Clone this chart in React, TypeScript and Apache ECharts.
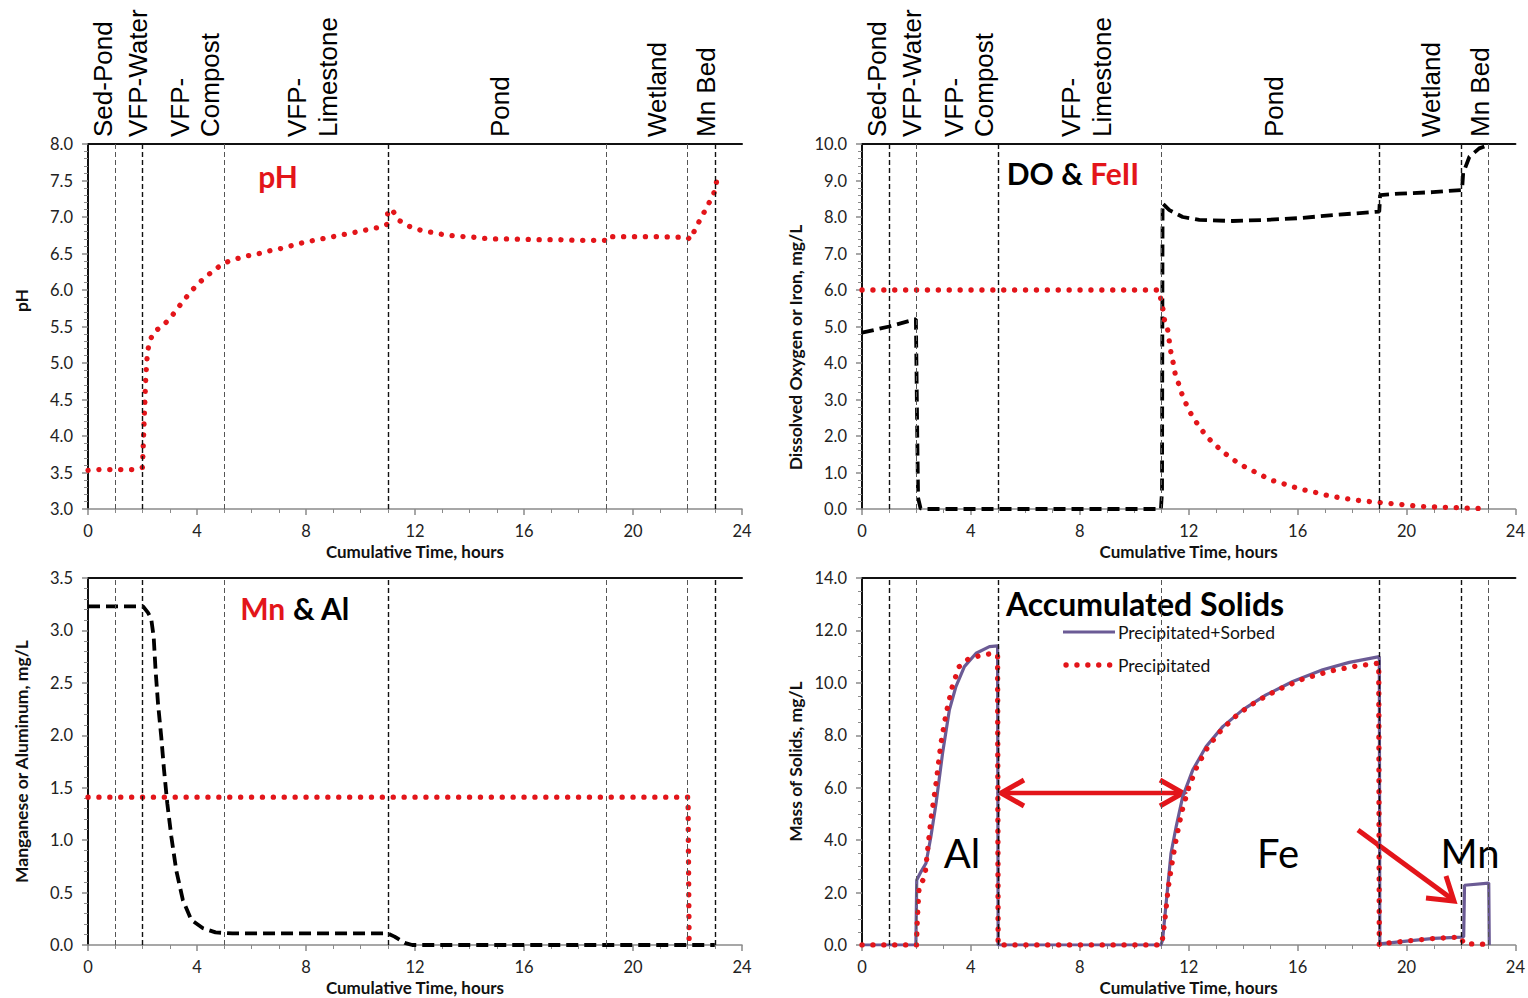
import React, { useEffect, useRef } from "react";
import * as echarts from "echarts";

// ---------- DATA ----------
// Stage boundaries (hours)
const boundaries = [1, 2, 5, 11, 19, 22, 23];
const stageLabels = ["Sed-Pond", "VFP-Water", "VFP-", "Compost", "VFP-", "Limestone", "Pond", "Wetland", "Mn Bed"];
const stageLabelHours = [0.55, 1.83, 3.38, 4.48, 7.67, 8.81, 15.12, 20.88, 22.68];
const xTicks = [0, 4, 8, 12, 16, 20, 24];

// pH (red dotted)
const phTime = [0, 0.43, 0.85, 1.26, 1.66, 2.0, 2.06, 2.12, 2.18, 2.25, 2.4, 2.74, 3.03, 3.27, 3.52, 3.8, 4.08, 4.39, 4.72, 5.08, 5.47, 5.88, 6.28, 6.7, 7.1, 7.5, 7.9, 8.3, 8.71, 9.12, 9.52, 9.93, 10.3, 10.7, 10.98, 11.0, 11.21, 11.43, 11.8, 12.2, 12.61, 13.02, 13.45, 13.85, 14.27, 14.7, 15.5, 16.4, 17.2, 18.0, 18.98, 19.02, 20.0, 21.0, 22.0, 22.1, 22.29, 22.47, 22.66, 22.84, 23.02, 23.08];
const phValue = [3.53, 3.54, 3.54, 3.54, 3.54, 3.57, 4.2, 4.8, 5.14, 5.28, 5.42, 5.51, 5.62, 5.74, 5.86, 5.99, 6.1, 6.2, 6.3, 6.38, 6.43, 6.47, 6.5, 6.54, 6.57, 6.61, 6.65, 6.68, 6.71, 6.74, 6.77, 6.8, 6.83, 6.86, 6.9, 7.1, 7.07, 6.95, 6.87, 6.82, 6.79, 6.76, 6.74, 6.73, 6.72, 6.7, 6.7, 6.69, 6.69, 6.68, 6.68, 6.73, 6.73, 6.73, 6.72, 6.69, 6.84, 6.97, 7.1, 7.23, 7.37, 7.52];

// Dissolved oxygen (black dashed)
const doTime = [0, 1, 1.98, 2.03, 2.06, 2.15, 2.3, 10.98, 11.02, 11.04, 11.29, 11.78, 12.39, 13.6, 14.84, 16.07, 17.29, 19.0, 19.03, 19.74, 20.96, 22.04, 22.08, 22.31, 22.67, 23.0];
const doValue = [4.83, 5.0, 5.2, 2.0, 0.3, 0.02, 0, 0, 0.5, 8.37, 8.19, 8.0, 7.92, 7.89, 7.92, 7.97, 8.05, 8.15, 8.6, 8.64, 8.68, 8.74, 9.2, 9.65, 9.88, 9.97];

// Ferrous iron (red dotted)
const feTime = [0, 10.9, 11.04, 11.11, 11.23, 11.29, 11.35, 11.44, 11.51, 11.66, 11.78, 11.96, 12.15, 12.39, 12.64, 12.94, 13.25, 13.56, 13.92, 14.29, 14.66, 15.03, 15.45, 15.82, 16.25, 16.68, 17.05, 17.47, 17.9, 18.27, 18.7, 19.13, 19.56, 19.98, 20.35, 20.78, 21.21, 21.64, 22.06, 22.5, 22.92];
const feValue = [6.0, 6.0, 5.54, 5.18, 4.9, 4.58, 4.27, 3.97, 3.67, 3.37, 3.08, 2.79, 2.51, 2.26, 2.0, 1.78, 1.57, 1.39, 1.21, 1.07, 0.93, 0.79, 0.7, 0.61, 0.52, 0.45, 0.38, 0.32, 0.27, 0.23, 0.2, 0.17, 0.14, 0.11, 0.08, 0.06, 0.05, 0.04, 0.03, 0.02, 0.01];

// Aluminum (black dashed)
const alTime = [0, 2.02, 2.2, 2.32, 2.41, 2.48, 2.57, 2.69, 2.79, 2.91, 3.06, 3.24, 3.48, 3.79, 4.22, 4.68, 5.3, 11.0, 11.25, 11.62, 11.9, 23.0];
const alValue = [3.23, 3.23, 3.17, 3.11, 2.94, 2.62, 2.3, 1.98, 1.67, 1.35, 1.03, 0.71, 0.43, 0.24, 0.16, 0.12, 0.11, 0.11, 0.08, 0.02, 0, 0];

// Manganese (red dotted)
const mnTime = [0, 22.02, 22.06, 22.12];
const mnValue = [1.41, 1.41, 0, 0];

// Accumulated solids: precipitated + sorbed (purple solid)
const sorbTime = [0, 1.98, 2.01, 2.17, 2.35, 2.53, 2.72, 2.96, 3.21, 3.45, 3.76, 4.19, 4.68, 4.98, 5.0, 10.98, 11.04, 11.17, 11.35, 11.54, 11.78, 12.15, 12.64, 13.25, 13.98, 14.84, 15.82, 16.92, 17.9, 19.0, 19.02, 19.1, 20.0, 21.0, 22.0, 22.1, 22.13, 23.02, 23.04];
const sorbValue = [0, 0, 2.48, 2.8, 3.12, 4.13, 5.41, 7.32, 8.97, 9.86, 10.62, 11.13, 11.38, 11.41, 0, 0, 0.19, 1.59, 3.5, 4.52, 5.66, 6.68, 7.57, 8.33, 8.97, 9.54, 10.05, 10.5, 10.78, 11.0, 0, 0.05, 0.15, 0.25, 0.3, 0.32, 2.28, 2.36, 0];

// Accumulated solids: precipitated only (red dotted)
const precTime = [0, 2.0, 2.03, 2.1, 2.31, 2.41, 2.53, 2.72, 2.9, 3.09, 3.33, 3.57, 3.94, 4.31, 4.8, 4.98, 5.0, 10.98, 11.05, 11.15, 11.25, 11.4, 11.55, 11.75, 12.0, 12.3, 12.7, 13.2, 13.8, 14.5, 15.3, 16.2, 17.2, 18.2, 18.98, 19.0, 19.1, 20.0, 21.0, 22.0, 22.1, 23.0];
const precValue = [0, 0, 0.95, 2.23, 2.6, 3.63, 4.77, 6.17, 7.7, 8.84, 9.92, 10.62, 10.94, 11.03, 11.13, 11.05, 0, 0, 0.3, 1.2, 2.2, 3.2, 4.1, 5.1, 6.0, 6.8, 7.55, 8.2, 8.8, 9.3, 9.75, 10.15, 10.45, 10.65, 10.75, 0, 0.05, 0.15, 0.25, 0.3, 0.05, 0.03];

// ---------- STYLE / LAYOUT ----------
const RED = "#e3151a";
const PURPLE = "#6b5b95";
const GRAY = "#8a8a8a";
const LATO = "Lato, 'Open Sans', sans-serif";
const grids = [
  { left: 88, top: 144, width: 654, height: 365 },
  { left: 862, top: 144, width: 654, height: 365 },
  { left: 88, top: 578, width: 654, height: 367 },
  { left: 862, top: 578, width: 654, height: 367 },
];
const yCfg = [
  { min: 3, max: 8, interval: 0.5, minor: 5, name: "pH", pad: [0, 0, 0, 52] },
  { min: 0, max: 10, interval: 1, minor: 5, name: "Dissolved Oxygen or Iron, mg/L", pad: [0, 42, 0, 0] },
  { min: 0, max: 3.5, interval: 0.5, minor: 5, name: "Manganese or Aluminum, mg/L", pad: [0, 0, 0, 0] },
  { min: 0, max: 14, interval: 2, minor: 4, name: "Mass of Solids, mg/L", pad: [0, 0, 0, 0] },
];
// boundary line emphasis per panel: 1 = dark/heavy, 0 = light
const boundaryWeight = [
  [0, 1, 0, 1, 0, 0, 1],
  [1, 0, 1, 0, 1, 1, 0],
  [0, 1, 0, 1, 0, 0, 1],
  [1, 0, 1, 0, 1, 1, 0],
];

const zip = (t: number[], v: number[]) => t.map((x, i) => [x, v[i]]);
const dotted = { type: [0.1, 10.8] as any, cap: "round" as any, width: 5.3, color: RED };
const dashed = { type: [12, 6] as any, width: 3.8, color: "#000" };

const xAxes: any[] = [];
const yAxes: any[] = [];
grids.forEach((g, i) => {
  xAxes.push({
    type: "value", gridIndex: i, min: 0, max: 24, interval: 4,
    name: "Cumulative Time, hours", nameLocation: "middle", nameGap: 34,
    nameTextStyle: { fontFamily: LATO, fontWeight: "bold", fontSize: 17, color: "#111" },
    axisLine: { onZero: false, lineStyle: { color: GRAY, width: 1.5 } },
    axisTick: { length: 6, lineStyle: { color: GRAY, width: 1.5 } },
    minorTick: { show: true, splitNumber: 4, length: 4, lineStyle: { color: GRAY } },
    splitLine: { show: false },
    axisLabel: { fontFamily: LATO, fontSize: 16.5, color: "#222", margin: 13, formatter: (v: number) => (xTicks.includes(v) ? String(v) : "") },
  });
  xAxes.push({
    type: "value", gridIndex: i, position: "top", min: 0, max: 24,
    axisLine: { onZero: false, lineStyle: { color: "#111", width: 2 } },
    axisTick: { show: false }, axisLabel: { show: false }, splitLine: { show: false },
  });
  const c = yCfg[i];
  yAxes.push({
    type: "value", gridIndex: i, min: c.min, max: c.max, interval: c.interval,
    name: c.name, nameLocation: "middle", nameGap: 58, nameRotate: 90,
    nameTextStyle: { fontFamily: LATO, fontWeight: "bold", fontSize: 17.5, color: "#111", padding: c.pad },
    axisLine: { show: true, lineStyle: { color: GRAY, width: 1.5 } },
    axisTick: { show: true, length: 6, lineStyle: { color: GRAY, width: 1.5 } },
    minorTick: { show: true, splitNumber: c.minor, length: 4, lineStyle: { color: GRAY } },
    splitLine: { show: false },
    axisLabel: { fontFamily: LATO, fontSize: 16.5, color: "#222", margin: 15, formatter: (v: number) => v.toFixed(1) },
  });
  yAxes.push({
    type: "value", gridIndex: i, position: "right", min: c.min, max: c.max,
    axisLine: { show: true, lineStyle: { color: "#111", width: 2 } },
    axisTick: { show: false }, axisLabel: { show: false }, splitLine: { show: false },
  });
});

const boundarySeries = (i: number) => ({
  type: "line", xAxisIndex: 2 * i, yAxisIndex: 2 * i, data: [], silent: true, z: 1,
  markLine: {
    silent: true, symbol: ["none", "none"], label: { show: false }, animation: false,
    data: boundaries.map((b, k) => ({
      xAxis: b,
      lineStyle: boundaryWeight[i][k]
        ? { type: [5, 3], color: "#111", width: 1.4 }
        : { type: [5, 3], color: "#555", width: 1 },
    })),
  },
});

const lineSeries = (i: number, data: number[][], lineStyle: any, name?: string, z = 3) => ({
  type: "line", name, xAxisIndex: 2 * i, yAxisIndex: 2 * i, data, showSymbol: false, symbol: "none",
  lineStyle, z, silent: true,
});

const headerTexts: any[] = [];
[88, 862].forEach((left) => {
  stageLabels.forEach((t, k) => {
    headerTexts.push({
      type: "text", x: left + stageLabelHours[k] * 27.25, y: 137, rotation: Math.PI / 2,
      style: { text: t, font: "26px 'Liberation Sans', Arial, sans-serif", fill: "#000", align: "left", verticalAlign: "middle" },
    });
  });
});

const bigText = (x: number, y: number, text: string) => ({
  type: "text", x, y, style: { text, font: `40px ${LATO}`, fill: "#000", align: "center", verticalAlign: "middle" },
});

const option: any = {
  animation: false,
  backgroundColor: "#fff",
  grid: grids.map((g) => ({ ...g, containLabel: false })),
  xAxis: xAxes,
  yAxis: yAxes,
  series: [
    boundarySeries(0), boundarySeries(1), boundarySeries(2), boundarySeries(3),
    lineSeries(0, zip(phTime, phValue), dotted, "pH"),
    lineSeries(1, zip(doTime, doValue), dashed, "DO"),
    lineSeries(1, zip(feTime, feValue), dotted, "FeII"),
    lineSeries(2, zip(alTime, alValue), dashed, "Al"),
    lineSeries(2, zip(mnTime, mnValue), dotted, "Mn"),
    lineSeries(3, zip(sorbTime, sorbValue), { color: PURPLE, width: 3.2 }, "Precipitated+Sorbed"),
    lineSeries(3, zip(precTime, precValue), dotted, "Precipitated", 4),
  ],
  graphic: [
    ...headerTexts,
    { type: "text", x: 278, y: 176, style: { text: "pH", font: `bold 30px ${LATO}`, fill: RED, align: "center", verticalAlign: "middle" } },
    {
      type: "text", x: 1073, y: 173,
      style: {
        text: "{a|DO & }{b|FeII}", align: "center", verticalAlign: "middle", font: `bold 30px ${LATO}`,
        rich: { a: { fill: "#000", font: `bold 30px ${LATO}` }, b: { fill: RED, font: `bold 30px ${LATO}` } },
      },
    },
    {
      type: "text", x: 295, y: 608,
      style: {
        text: "{b|Mn}{a| & Al}", align: "center", verticalAlign: "middle", font: `bold 30px ${LATO}`,
        rich: { a: { fill: "#000", font: `bold 30px ${LATO}` }, b: { fill: RED, font: `bold 30px ${LATO}` } },
      },
    },
    { type: "text", x: 1145, y: 603, style: { text: "Accumulated Solids", font: `bold 32px ${LATO}`, fill: "#000", align: "center", verticalAlign: "middle" } },
    // legend
    { type: "line", shape: { x1: 1063, y1: 632, x2: 1115, y2: 632 }, style: { stroke: PURPLE, lineWidth: 3 } },
    { type: "text", x: 1118, y: 632, style: { text: "Precipitated+Sorbed", font: `17.5px ${LATO}`, fill: "#111", align: "left", verticalAlign: "middle" } },
    { type: "line", shape: { x1: 1066, y1: 665, x2: 1115, y2: 665 }, style: { stroke: RED, lineWidth: 5.3, lineDash: [0.1, 10.8], lineCap: "round" } },
    { type: "text", x: 1118, y: 665, style: { text: "Precipitated", font: `17.5px ${LATO}`, fill: "#111", align: "left", verticalAlign: "middle" } },
    // annotations
    bigText(962, 853, "Al"),
    bigText(1278, 853, "Fe"),
    bigText(1470, 853, "Mn"),
    { type: "line", shape: { x1: 1002, y1: 793, x2: 1181, y2: 793 }, style: { stroke: RED, lineWidth: 4.5 } },
    { type: "polyline", shape: { points: [[1024, 780], [1001, 793], [1024, 806]] }, style: { stroke: RED, lineWidth: 5, fill: null, lineJoin: "miter" } },
    { type: "polyline", shape: { points: [[1160, 780], [1183, 793], [1160, 806]] }, style: { stroke: RED, lineWidth: 5, fill: null, lineJoin: "miter" } },
    { type: "line", shape: { x1: 1358, y1: 830, x2: 1452, y2: 899 }, style: { stroke: RED, lineWidth: 5 } },
    { type: "polyline", shape: { points: [[1426, 898], [1454, 901], [1446, 876]] }, style: { stroke: RED, lineWidth: 5, fill: null, lineJoin: "miter" } },
  ],
};

export default function App() {
  const ref = useRef<HTMLDivElement>(null);
  useEffect(() => {
    const chart = echarts.init(ref.current!, null, { renderer: "svg" });
    chart.setOption(option);
    return () => chart.dispose();
  }, []);
  return <div ref={ref} style={{ position: "absolute", left: 0, top: 0, width: 1528, height: 998, background: "#fff" }} />;
}
